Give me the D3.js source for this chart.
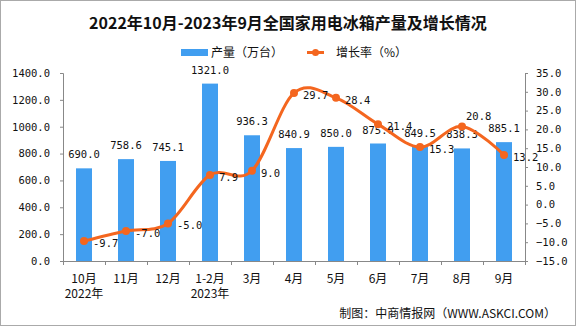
<!DOCTYPE html>
<html><head><meta charset="utf-8">
<script src="https://cdn.jsdelivr.net/npm/d3@7"></script>
<style>body{margin:0;background:#fff}svg{display:block}</style>
</head><body><svg id="c" width="576" height="326"></svg>
<script>
const categories = ["10月","11月","12月","1-2月","3月","4月","5月","6月","7月","8月","9月"];
const subLabels = ["2022年","","","2023年","","","","","","",""];
const production = [690.0,758.6,745.1,1321.0,936.3,840.9,850.0,875.0,849.5,838.3,885.1];
const growth = [-9.7,-7.0,-5.0,7.9,9.0,29.7,28.4,21.4,15.3,20.8,13.2];
const leftTicks = [0,200,400,600,800,1000,1200,1400];
const rightTicks = [-15,-10,-5,0,5,10,15,20,25,30,35];

const svg = d3.select("#c");
const L = 63, R = 525, T = 73, B = 261;
const numFont = "'DejaVu Sans Mono', monospace";
const cjk = "'Noto Sans CJK SC', sans-serif";
const blue = "#419ef0", orange = "#f4661f", axisC = "#888";

svg.append("rect").attr("x",0.5).attr("y",0.5).attr("width",575).attr("height",325)
  .attr("fill","#fff").attr("stroke","#aaa");

const x = d3.scaleBand().domain(categories).range([L,R]).padding(0);
const yL = d3.scaleLinear().domain([0,1400]).range([B,T]);
const yR = d3.scaleLinear().domain([-15,35]).range([B,T]);

// title
svg.append("text").attr("x",288).attr("y",29).attr("text-anchor","middle")
  .attr("font-family",cjk).attr("font-weight","bold").attr("font-size",16).attr("fill","#111")
  .text("2022年10月-2023年9月全国家用电冰箱产量及增长情况");

// legend
svg.append("rect").attr("x",181).attr("y",49).attr("width",27).attr("height",7).attr("fill",blue);
svg.append("text").attr("x",211).attr("y",57).attr("font-family",cjk).attr("font-size",12).attr("fill","#111").text("产量（万台）");
svg.append("line").attr("x1",307).attr("x2",324).attr("y1",52.5).attr("y2",52.5).attr("stroke",orange).attr("stroke-width",3);
svg.append("circle").attr("cx",315.5).attr("cy",52.5).attr("r",3.5).attr("fill",orange);
svg.append("text").attr("x",336).attr("y",57).attr("font-family",cjk).attr("font-size",12).attr("fill","#111").text("增长率（%）");

// bars
svg.append("g").selectAll("rect").data(production).join("rect")
  .attr("x",(d,i)=>x(categories[i])+x.bandwidth()/2-8)
  .attr("width",16)
  .attr("y",d=>yL(d)).attr("height",d=>B-yL(d)).attr("fill",blue);

// axes
const axL = svg.append("g").attr("transform",`translate(${L},0)`)
  .call(d3.axisLeft(yL).tickValues(leftTicks).tickSize(3).tickPadding(10).tickFormat(d3.format(".1f")));
const axR = svg.append("g").attr("transform",`translate(${R},0)`)
  .call(d3.axisRight(yR).tickValues(rightTicks).tickSize(3).tickPadding(8).tickFormat(d3.format(".1f")));
[axL,axR].forEach(a=>{
  a.select(".domain").attr("stroke",axisC);
  a.selectAll(".tick line").attr("stroke",axisC);
  a.selectAll("text").attr("font-family",numFont).attr("font-size",10.5).attr("fill","#111");
});
axR.selectAll("text").text(d=>d<0?"−"+Math.abs(d).toFixed(1):d.toFixed(1));

// x axis
const gx = svg.append("g");
gx.append("line").attr("x1",L).attr("x2",R).attr("y1",B+0.5).attr("y2",B+0.5).attr("stroke",axisC);
const bounds = categories.map(c=>x(c)).concat([R]);
gx.selectAll(".tk").data(bounds).join("line").attr("class","tk")
  .attr("x1",d=>Math.round(d)+0.5).attr("x2",d=>Math.round(d)+0.5).attr("y1",B).attr("y2",B+4).attr("stroke",axisC);
gx.selectAll(".cl").data(categories).join("text").attr("class","cl")
  .attr("x",d=>x(d)+x.bandwidth()/2).attr("y",283).attr("text-anchor","middle")
  .attr("font-family",cjk).attr("font-size",12).attr("fill","#111").text(d=>d);
gx.selectAll(".sl").data(subLabels).join("text").attr("class","sl")
  .attr("x",(d,i)=>x(categories[i])+x.bandwidth()/2).attr("y",298).attr("text-anchor","middle")
  .attr("font-family",cjk).attr("font-size",12).attr("fill","#111").text(d=>d);

// bar labels
svg.append("g").selectAll("text").data(production).join("text")
  .attr("x",(d,i)=>x(categories[i])+x.bandwidth()/2).attr("y",d=>yL(d)-10)
  .attr("text-anchor","middle").attr("font-family",numFont).attr("font-size",10.5).attr("fill","#111")
  .text(d=>d.toFixed(1));

// line
const cx = i=>x(categories[i])+x.bandwidth()/2;
const line = d3.line().x((d,i)=>cx(i)).y(d=>yR(d)).curve(d3.curveCardinal.tension(0));
svg.append("path").datum(growth).attr("d",line).attr("fill","none").attr("stroke",orange).attr("stroke-width",3);
svg.append("g").selectAll("circle").data(growth).join("circle")
  .attr("cx",(d,i)=>cx(i)).attr("cy",d=>yR(d)).attr("r",4).attr("fill",orange);
svg.append("g").selectAll("text").data(growth).join("text")
  .attr("x",(d,i)=>cx(i)+(i===9?4:9)).attr("y",(d,i)=>yR(d)+(i===9?-6:6))
  .attr("font-family",numFont).attr("font-size",10.5).attr("fill","#111")
  .text(d=>d.toFixed(1));

// source
svg.append("text").attr("x",556).attr("y",318).attr("text-anchor","end")
  .attr("font-family",cjk).attr("font-size",12).attr("fill","#111")
  .text("制图：中商情报网（WWW.ASKCI.COM）");
</script></body></html>
